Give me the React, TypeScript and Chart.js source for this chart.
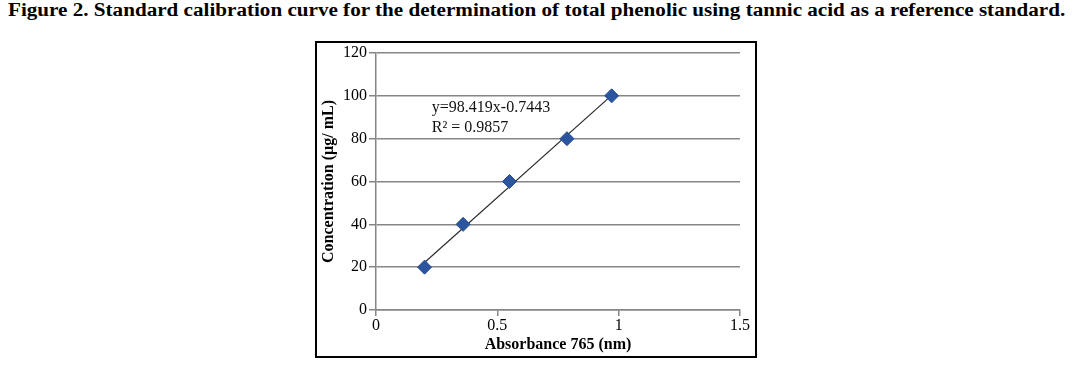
import React, { useEffect, useRef } from "react";
import { Chart, registerables } from "chart.js";

Chart.register(...registerables);

const titleText =
  "Figure 2. Standard calibration curve for the determination of total phenolic using tannic acid as a reference standard.";
const absorbance = [0.2, 0.359, 0.55, 0.787, 0.971];
const concentration = [20, 40, 60, 80, 100];
const trendX = [0.2, 0.971];
const trendY = [22.2, 100.2];
const xTicks = [0, 0.5, 1, 1.5];
const yTicks = [0, 20, 40, 60, 80, 100, 120];
const equationLines = ["y=98.419x-0.7443", "R² = 0.9857"];
const xTitle = "Absorbance 765 (nm)";
const yTitle = "Concentration (µg/ mL)";

const SERIF = "'Liberation Serif', 'Times New Roman', serif";
const GRID = "#868686";

export default function App() {
  const ref = useRef<HTMLCanvasElement | null>(null);
  const titleRef = useRef<HTMLDivElement | null>(null);

  useEffect(() => {
    if (titleRef.current) {
      const w = titleRef.current.scrollWidth;
      if (w > 0) titleRef.current.style.transform = `scaleX(${1057 / w})`;
    }
    if (!ref.current) return;
    const annotate = {
      id: "equation",
      afterDatasetsDraw(chart: any) {
        const { ctx, scales } = chart;
        const x = scales.x.getPixelForValue(0.23);
        const y0 = scales.y.getPixelForValue(92.5);
        const y1 = scales.y.getPixelForValue(83);
        ctx.save();
        ctx.fillStyle = "#111";
        ctx.font = `16px ${SERIF}`;
        ctx.textBaseline = "alphabetic";
        ctx.textAlign = "left";
        ctx.fillText(equationLines[0], x, y0);
        ctx.fillText(equationLines[1], x, y1);
        ctx.restore();
      },
    };
    const chart = new Chart(ref.current, {
      type: "scatter",
      data: {
        datasets: [
          {
            label: "trend",
            data: trendX.map((x, i) => ({ x, y: trendY[i] })),
            showLine: true,
            borderColor: "#2a2a2a",
            borderWidth: 1.2,
            pointRadius: 0,
            order: 2,
          },
          {
            label: "data",
            data: absorbance.map((x, i) => ({ x, y: concentration[i] })),
            pointStyle: "rectRot",
            pointRadius: 7,
            backgroundColor: "#2c559f",
            borderColor: "#24498c",
            borderWidth: 1,
            order: 1,
          },
        ],
      },
      options: {
        animation: false,
        responsive: false,
        layout: { padding: { top: 8, right: 15, left: 2, bottom: 2 } },
        plugins: {
          legend: { display: false },
          tooltip: { enabled: false },
        },
        scales: {
          x: {
            type: "linear",
            min: 0,
            max: 1.5,
            afterBuildTicks: (s: any) => {
              s.ticks = xTicks.map((v) => ({ value: v }));
            },
            afterFit: (s: any) => {
              s.height = 44;
            },
            border: { color: GRID, width: 1.5 },
            grid: {
              drawOnChartArea: false,
              drawTicks: true,
              tickLength: 6,
              color: GRID,
              lineWidth: 1.5,
            },
            ticks: {
              color: "#000",
              font: { family: SERIF, size: 16 },
              padding: 0,
              maxRotation: 0,
              callback: (v: any) => String(v),
            },
            title: {
              display: true,
              text: xTitle,
              color: "#000",
              font: { family: SERIF, size: 16, weight: "bold" },
              padding: { top: 0, bottom: 0 },
            },
          },
          y: {
            type: "linear",
            min: 0,
            max: 120,
            afterBuildTicks: (s: any) => {
              s.ticks = yTicks.map((v) => ({ value: v }));
            },
            afterFit: (s: any) => {
              s.width = 57;
            },
            border: { color: GRID, width: 1.5 },
            grid: {
              drawOnChartArea: true,
              drawTicks: true,
              tickLength: 7,
              color: GRID,
              lineWidth: 1.5,
            },
            ticks: {
              color: "#000",
              font: { family: SERIF, size: 16, lineHeight: 1 },
              padding: 2,
            },
            title: {
              display: true,
              text: yTitle,
              color: "#000",
              font: { family: SERIF, size: 16, weight: "bold" },
              padding: { top: 0, bottom: 0 },
            },
          },
        },
      },
      plugins: [annotate],
    });
    return () => chart.destroy();
  }, []);

  return (
    <div
      style={{
        position: "fixed",
        left: 0,
        top: 0,
        width: 1075,
        height: 366,
        background: "#fff",
      }}
    >
      <div
        ref={titleRef}
        style={{
          position: "absolute",
          left: 8,
          top: 0,
          whiteSpace: "nowrap",
          fontFamily: SERIF,
          fontWeight: "bold",
          fontSize: 18,
          lineHeight: "21px",
          color: "#000",
          transformOrigin: "0 0",
        }}
      >
        {titleText}
      </div>
      <div
        style={{
          position: "absolute",
          left: 315,
          top: 41,
          width: 438,
          height: 313,
          border: "2px solid #000",
        }}
      >
        <canvas ref={ref} width={438} height={313} style={{ display: "block" }} />
      </div>
    </div>
  );
}
